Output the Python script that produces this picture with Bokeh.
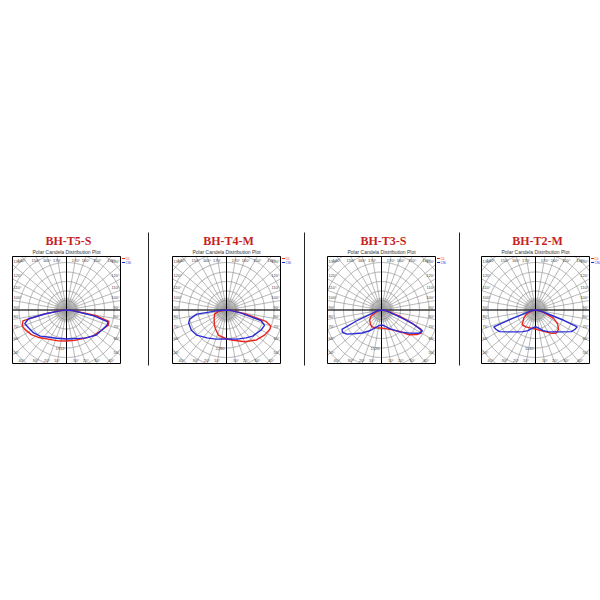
import numpy as np
from bokeh.plotting import figure
from bokeh.models import Range1d
from bokeh.embed import file_html
from bokeh.resources import INLINE
from bokeh.core.properties import value

# ---------------- data ----------------
titles = ["BH-T5-S", "BH-T4-M", "BH-T3-S", "BH-T2-M"]
subtitle = "Polar Candela Distribution Plot"
legend_labels = ["C0", "C90"]
ring_step_cd = [478, 570, 380, 285]   # candela per ring

# BH-T5-S
t5_c0_ang = [-90, -85, -80, -76, -70, -65, -55, -45, -30, -15, 0, 15, 30, 45, 60, 70, 75, 79, 85, 90]
t5_c0_cd = [0, 250, 1110, 2260, 2360, 2310, 2160, 1960, 1710, 1610, 1560, 1580, 1660, 1860, 2040, 2240, 2210, 1510, 300, 0]
t5_c90_ang = [-90, -85, -80, -77, -72, -65, -55, -45, -35, -20, 0, 20, 35, 50, 62, 70, 74, 78, 85, 90]
t5_c90_cd = [0, 200, 1010, 1960, 2210, 2110, 2010, 1860, 1660, 1510, 1460, 1530, 1710, 1960, 2060, 2190, 2160, 1410, 300, 0]

# BH-T4-M
t4_c0_ang = [-90, -80, -72, -55, -40, -30, -18, 0, 10, 30, 45, 57, 66, 70, 74, 78, 85, 90]
t4_c0_cd = [0, 480, 750, 900, 1140, 1320, 1580, 1740, 1830, 2200, 2540, 2740, 2850, 2820, 2460, 1200, 300, 0]
t4_c90_ang = [-90, -85, -82, -76, -71, -60, -50, -35, -20, 0, 20, 35, 45, 60, 68, 73, 78, 85, 90]
t4_c90_cd = [0, 600, 1800, 2280, 2400, 2430, 2340, 2040, 1860, 1740, 1860, 2040, 2220, 2400, 2460, 2160, 900, 240, 0]

# BH-T3-S
t3_c0_ang = [-90, -70, -60, -50, -40, -30, -15, 0, 15, 30, 40, 48, 55, 60, 64, 67, 71, 80, 90]
t3_c0_cd = [0, 200, 480, 620, 700, 780, 740, 720, 780, 920, 1120, 1480, 1720, 1840, 1760, 1280, 800, 240, 0]
t3_c90_ang = [-90, -80, -70, -67, -64, -60, -55, -50, -40, -30, -20, -10, 0, 10, 20, 30, 40, 50, 58, 63, 66, 69, 75, 85, 90]
t3_c90_cd = [0, 160, 400, 1000, 1760, 1800, 1680, 1480, 1200, 960, 760, 640, 600, 640, 760, 920, 1140, 1440, 1760, 1840, 1400, 800, 320, 120, 0]

# BH-T2-M
t2_c0_ang = [-90, -75, -65, -55, -42, -30, -10, 0, 10, 25, 35, 42, 50, 58, 65, 75, 90]
t2_c0_cd = [0, 120, 300, 430, 600, 585, 560, 570, 615, 720, 855, 930, 900, 780, 600, 240, 0]
t2_c90_ang = [-90, -80, -73, -70, -68, -64, -59, -50, -40, -30, -20, -10, 0, 10, 20, 30, 40, 50, 59, 64, 68, 70, 73, 80, 90]
t2_c90_cd = [0, 120, 300, 750, 1350, 1320, 1260, 1020, 855, 750, 660, 555, 500, 555, 660, 750, 855, 1020, 1260, 1320, 1350, 900, 360, 120, 0]

curves = [
    ((t5_c0_ang, t5_c0_cd), (t5_c90_ang, t5_c90_cd)),
    ((t4_c0_ang, t4_c0_cd), (t4_c90_ang, t4_c90_cd)),
    ((t3_c0_ang, t3_c0_cd), (t3_c90_ang, t3_c90_cd)),
    ((t2_c0_ang, t2_c0_cd), (t2_c90_ang, t2_c90_cd)),
]

# ---------------- layout / style ----------------
W = H = 600
centers_x = [66, 226, 381, 535]
center_y = 309.5
half_w, half_h = 54, 53.5
ring_px = 9.5
n_rings = 8
title_y = 240
subtitle_y = 251
sep_x = [148, 304, 459]
sep_y0, sep_y1 = 232, 365
red = "#e8261e"
blue = "#2b2bd6"
grid_col = "#8a8a8a"
title_col = "#c81e1e"

p = figure(width=W, height=H, output_backend="svg", toolbar_location=None,
           x_range=Range1d(0, W), y_range=Range1d(H, 0),
           min_border=0, background_fill_color="white")
p.axis.visible = False
p.grid.visible = False
p.outline_line_color = None


def ray_end(cx, cy, g):
    s, c = np.sin(g), np.cos(g)
    tx = half_w / abs(s) if abs(s) > 1e-9 else np.inf
    ty = half_h / abs(c) if abs(c) > 1e-9 else np.inf
    t = min(tx, ty)
    return cx + t * s, cy + t * c, ("lr" if tx < ty else "tb")


for i, cx in enumerate(centers_x):
    cy = center_y
    # rings (clipped to the box)
    xs, ys = [], []
    th = np.linspace(0, 2 * np.pi, 2881)
    for k in range(1, n_rings + 1):
        r = k * ring_px
        x = cx + r * np.sin(th)
        y = cy + r * np.cos(th)
        out = (np.abs(x - cx) > half_w) | (np.abs(y - cy) > half_h)
        x[out] = np.nan
        y[out] = np.nan
        xs.append(x.tolist())
        ys.append(y.tolist())
    p.multi_line(xs, ys, line_color=grid_col, line_width=0.7)

    # radial lines every 10 degrees
    rx0, ry0, rx1, ry1 = [], [], [], []
    lab_x, lab_y, lab_t, lab_al, lab_bl = [], [], [], [], []
    for deg in range(0, 360, 10):
        g = np.radians(deg)
        ex, ey, edge = ray_end(cx, cy, g)
        rx0.append(cx); ry0.append(cy); rx1.append(ex); ry1.append(ey)
        if deg in (0, 180):
            continue
        val = deg if deg <= 180 else 360 - deg
        if edge == "lr":
            if ex > cx:
                lab_x.append(ex - 1); lab_al.append("right")
            else:
                lab_x.append(ex + 1); lab_al.append("left")
            lab_y.append(ey - 0.5); lab_bl.append("bottom")
        else:
            lab_x.append(ex)
            lab_al.append("center")
            if ey < cy:
                lab_y.append(ey + 1); lab_bl.append("top")
            else:
                lab_y.append(ey - 1); lab_bl.append("bottom")
        lab_t.append(f"{val}°")
    p.segment(rx0, ry0, rx1, ry1, line_color=grid_col, line_width=0.6)

    # dense inner radial lines
    ix0, iy0, ix1, iy1 = [], [], [], []
    for deg in np.arange(0, 360, 5):
        g = np.radians(deg)
        ix0.append(cx); iy0.append(cy)
        ix1.append(cx + 1.3 * ring_px * np.sin(g)); iy1.append(cy + 1.3 * ring_px * np.cos(g))
    p.segment(ix0, iy0, ix1, iy1, line_color="#9a9a9a", line_width=0.5)

    # main axes
    p.segment([cx - half_w, cx], [cy, cy - half_h], [cx + half_w, cx], [cy, cy + half_h],
              line_color="black", line_width=1)

    # box
    p.quad(left=[cx - half_w], right=[cx + half_w], top=[cy - half_h], bottom=[cy + half_h],
           fill_color=None, line_color="black", line_width=1)

    # angle labels
    p.text(lab_x, lab_y, text=lab_t, text_align=lab_al, text_baseline=lab_bl,
           text_font=value("Liberation Sans"), text_font_size="4px", text_color="#444444")

    # curves
    step = ring_step_cd[i]
    for (ang, cd), col in zip(curves[i], [red, blue]):
        g = np.radians(np.array(ang, dtype=float))
        r = np.array(cd, dtype=float) / step * ring_px
        p.line(cx + r * np.sin(g), cy + r * np.cos(g), line_color=col, line_width=1.4)

    # ring value label
    p.text([cx - 2], [cy + 4 * ring_px], text=[str(4 * step)], text_align="right",
           text_baseline="middle", text_font=value("Liberation Sans"), text_font_size="4px",
           text_color="#444444")

    # legend
    lx = cx + half_w + 1.5
    p.segment([lx, lx], [cy - half_h + 2, cy - half_h + 6], [lx + 3, lx + 3],
              [cy - half_h + 2, cy - half_h + 6], line_color=[red, blue], line_width=1)
    p.text([lx + 3.5, lx + 3.5], [cy - half_h + 2, cy - half_h + 6], text=legend_labels,
           text_align="left", text_baseline="middle", text_font=value("Liberation Sans"),
           text_font_size="3px", text_color=[red, blue])

    # titles
    p.text([cx + 2], [title_y], text=[titles[i]], text_align="center", text_baseline="middle",
           text_font=value("Liberation Serif"), text_font_style="bold", text_font_size="12px",
           text_color=title_col)
    p.text([cx], [subtitle_y], text=[subtitle], text_align="center", text_baseline="middle",
           text_font=value("Liberation Sans"), text_font_size="5px", text_color="#333333")

# separators
p.segment(sep_x, [sep_y0] * 3, sep_x, [sep_y1] * 3, line_color="#222222", line_width=1)

open("out.html", "w").write(file_html(p, INLINE))
